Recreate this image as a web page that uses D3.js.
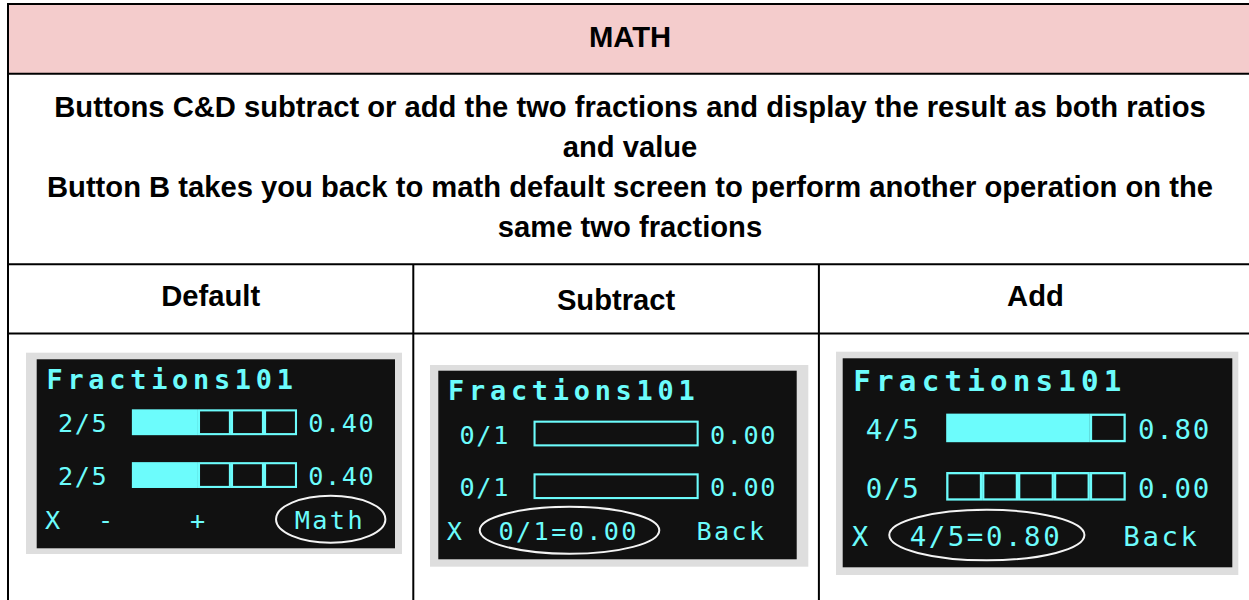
<!DOCTYPE html>
<html>
<head>
<meta charset="utf-8">
<script src="https://cdn.jsdelivr.net/npm/d3@7"></script>
<style>
  body { margin: 0; background: #fff; }
  svg { display: block; }
</style>
</head>
<body>
<div id="table"></div>
<script>
// Table text
var heading = 'MATH';
var notes = [
    'Buttons C&D subtract or add the two fractions and display the result as both ratios',
    'and value',
    'Button B takes you back to math default screen to perform another operation on the',
    'same two fractions'
];
var screens = ['Default', 'Subtract', 'Add'];

// What each OLED screenshot shows
var appName = 'Fractions101';
var numerators = [[2, 2], [0, 0], [4, 0]];
var denominators = [[5, 5], [1, 1], [5, 5]];
var footers = [
    ['X', '-', '+', 'Math'],
    ['X', '0/1=0.00', 'Back'],
    ['X', '4/5=0.80', 'Back']
];
var circled = ['Math', '0/1=0.00', '4/5=0.80'];

// Page size
var svgWidth = 1249;
var svgHeight = 600;

// Table grid
var rowLines = [4, 73.7, 264.2, 333.5];
var colLines = [8, 413.3, 818.9, 1252];
var headerBaselines = [305.5, 309.5, 305.5];

// Screenshot placement inside each cell (grey frame, black screen)
var shots = [
    { frame: [26, 352.7, 402, 554], screen: [36.7, 359.3, 395, 548.3] },
    { frame: [430, 365, 808.3, 566.7], screen: [438.3, 370.7, 796.7, 559.3] },
    { frame: [836, 351.7, 1238.3, 575], screen: [842.7, 358.3, 1232.3, 567.3] }
];

// Screen layout in display pixels (128 wide)
var oled = {
    w: 128, h: 68,
    titleX: 3.5, titleY: 10.6,
    labelX: 7.6, valueX: 97,
    barX0: 34, barX1: 93, barTop: [18, 37], barH: 9.3,
    footY: 61.2
};
var footerX = [[3, 21.9, 54.8, 92.2], [3, 21.5, 92.2], [3, 22, 92.2]];

var cyan = '#6cfcfc';
var fmt = d3.format('.2f');

var svg = d3.select('#table')
    .append('svg')
    .attr('width', svgWidth)
    .attr('height', svgHeight);

// Pink heading band
svg.append('rect')
    .attr('x', colLines[0])
    .attr('y', rowLines[0])
    .attr('width', colLines[3] - colLines[0])
    .attr('height', rowLines[1] - rowLines[0])
    .attr('fill', '#f4cccc');

// Heading and notes
var midX = (colLines[0] + colLines[3]) / 2;

svg.append('text')
    .attr('x', midX)
    .attr('y', 47.3)
    .attr('class', 'cell')
    .text(heading);

svg.selectAll('.note')
    .data(notes)
    .enter()
    .append('text')
    .attr('class', 'cell note')
    .attr('x', midX)
    .attr('y', (d, i) => 116.7 + i * 40)
    .text(d => d);

// Column headers
svg.selectAll('.colhead')
    .data(screens)
    .enter()
    .append('text')
    .attr('class', 'cell colhead')
    .attr('x', (d, i) => (colLines[i] + colLines[i + 1]) / 2)
    .attr('y', (d, i) => headerBaselines[i])
    .text(d => d);

svg.selectAll('text.cell')
    .attr('text-anchor', 'middle')
    .attr('font-family', '"Liberation Sans", Arial, sans-serif')
    .attr('font-weight', 'bold')
    .attr('font-size', 29.2)
    .attr('fill', '#000');

// Grid lines
var grid = svg.append('g')
    .attr('stroke', '#000')
    .attr('stroke-width', 2);

rowLines.forEach(function(y) {
    grid.append('line')
        .attr('x1', colLines[0] - 1).attr('x2', colLines[3])
        .attr('y1', y).attr('y2', y);
});

grid.append('line')
    .attr('x1', colLines[0]).attr('x2', colLines[0])
    .attr('y1', rowLines[0] - 1).attr('y2', svgHeight);

grid.append('line')
    .attr('x1', colLines[3]).attr('x2', colLines[3])
    .attr('y1', rowLines[0] - 1).attr('y2', svgHeight);

colLines.slice(1, 3).forEach(function(x) {
    grid.append('line')
        .attr('x1', x).attr('x2', x)
        .attr('y1', rowLines[2]).attr('y2', svgHeight);
});

// One OLED screenshot per column
shots.forEach(function(shot, p) {
    var s = shot.screen;
    var ux = d3.scaleLinear().domain([0, oled.w]).range([s[0], s[2]]);
    var uy = d3.scaleLinear().domain([0, oled.h]).range([s[1], s[3]]);
    var k = (s[2] - s[0]) / oled.w;

    var g = svg.append('g');

    g.append('rect')
        .attr('x', shot.frame[0])
        .attr('y', shot.frame[1])
        .attr('width', shot.frame[2] - shot.frame[0])
        .attr('height', shot.frame[3] - shot.frame[1])
        .attr('fill', '#dedede');

    g.append('rect')
        .attr('x', s[0])
        .attr('y', s[1])
        .attr('width', s[2] - s[0])
        .attr('height', s[3] - s[1])
        .attr('fill', '#111');

    // App title
    g.append('text')
        .attr('x', ux(oled.titleX))
        .attr('y', uy(oled.titleY))
        .attr('font-family', '"DejaVu Sans Mono", monospace')
        .attr('font-weight', 'bold')
        .attr('font-size', 9.6 * k)
        .attr('letter-spacing', 1.7 * k)
        .attr('fill', cyan)
        .text(appName);

    // Two fraction rows: label, bar, value
    numerators[p].forEach(function(num, r) {
        var den = denominators[p][r];
        var xs = d3.scaleLinear().domain([0, den]).range([ux(oled.barX0), ux(oled.barX1)]);
        var y0 = uy(oled.barTop[r]);
        var y1 = uy(oled.barTop[r] + oled.barH);
        var base = uy(oled.barTop[r] + oled.barH - 1);

        g.append('rect')
            .attr('x', xs(0))
            .attr('y', y0)
            .attr('width', xs(num) - xs(0))
            .attr('height', y1 - y0)
            .attr('fill', cyan);

        g.selectAll(null)
            .data(d3.range(num, den))
            .enter()
            .append('rect')
            .attr('x', d => xs(d) + 0.375 * k)
            .attr('y', y0 + 0.375 * k)
            .attr('width', d => xs(d + 1) - xs(d) - 0.75 * k)
            .attr('height', y1 - y0 - 0.75 * k)
            .attr('fill', 'none')
            .attr('stroke', cyan)
            .attr('stroke-width', 0.75 * k);

        g.append('text')
            .attr('class', 'px')
            .attr('x', ux(oled.labelX))
            .attr('y', base)
            .text(num + '/' + den);

        g.append('text')
            .attr('class', 'px')
            .attr('x', ux(oled.valueX))
            .attr('y', base)
            .text(fmt(num / den));
    });

    g.selectAll('text.px')
        .attr('letter-spacing', 0.58 * k);

    // Bottom line of button hints
    var foot = g.selectAll(null)
        .data(footers[p])
        .enter()
        .append('text')
        .attr('class', 'px')
        .attr('x', (d, i) => ux(footerX[p][i]))
        .attr('y', uy(oled.footY))
        .attr('letter-spacing', 0.85 * k)
        .text(d => d);

    g.selectAll('text.px')
        .attr('font-family', '"DejaVu Sans Mono", monospace')
        .attr('font-size', 9 * k)
        .attr('fill', cyan);

    // Hand drawn loop round the highlighted item
    foot.filter(d => d === circled[p]).each(function() {
        var b = this.getBBox();
        g.append('ellipse')
            .attr('cx', b.x + b.width / 2 + 0.3 * k)
            .attr('cy', b.y + b.height / 2 - 0.6 * k)
            .attr('rx', b.width / 2 + 7 * k)
            .attr('ry', b.height / 2 + 3.2 * k)
            .attr('fill', 'none')
            .attr('stroke', '#f4f4f4')
            .attr('stroke-width', 2);
    });
});
</script>
</body>
</html>
